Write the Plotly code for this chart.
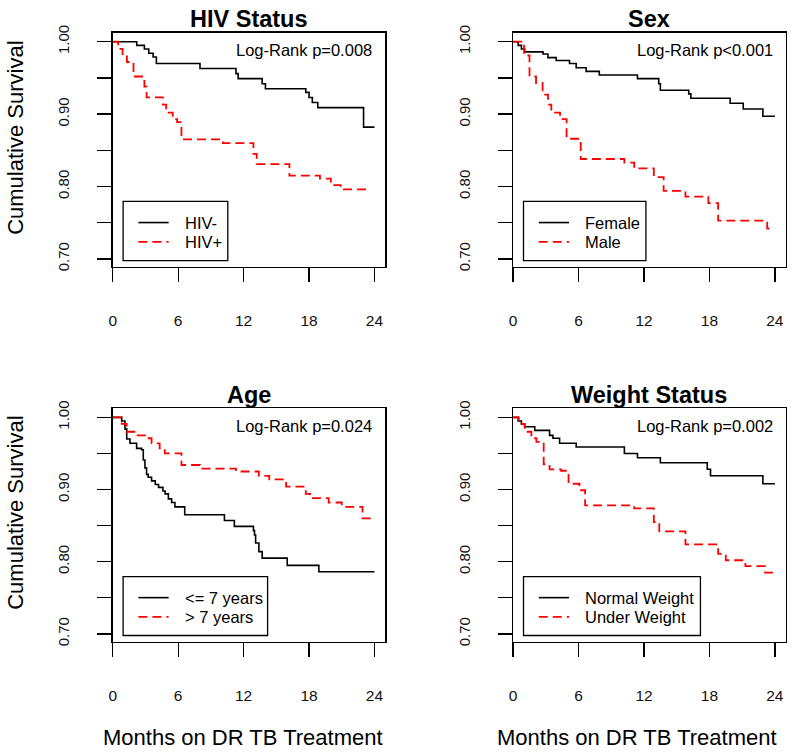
import plotly.graph_objects as go

# ---------------- data ----------------
month_ticks = [0, 6, 12, 18, 24]
surv_ticks = [0.70, 0.75, 0.80, 0.85, 0.90, 0.95, 1.00]
surv_ticktext = ["0.70", "", "0.80", "", "0.90", "", "1.00"]

panel_titles = ["HIV Status", "Sex", "Age", "Weight Status"]
panel_pvalues = ["Log-Rank p=0.008", "Log-Rank p<0.001", "Log-Rank p=0.024", "Log-Rank p=0.002"]
group_labels = [["HIV-", "HIV+"], ["Female", "Male"], ["<= 7 years", "> 7 years"],
                ["Normal Weight", "Under Weight"]]

hiv_neg_t = [0, 2.2, 2.9, 3.3, 3.7, 4.0, 8.0, 11.3, 11.5, 13.7, 14.0, 17.7, 18.0, 18.3, 18.8, 23.0, 24.0]
hiv_neg_s = [1.0, 0.995, 0.990, 0.984, 0.979, 0.970, 0.963, 0.956, 0.949, 0.942, 0.935, 0.930, 0.923,
             0.916, 0.909, 0.882, 0.882]
hiv_pos_t = [0, 0.5, 0.9, 1.3, 1.9, 2.9, 3.1, 4.6, 4.9, 5.5, 5.9, 6.3, 10.1, 12.9, 13.2, 16.2, 19.0,
             20.0, 20.9, 23.5]
hiv_pos_s = [1.0, 0.990, 0.981, 0.972, 0.952, 0.938, 0.923, 0.913, 0.902, 0.893, 0.889, 0.865, 0.860,
             0.845, 0.831, 0.815, 0.811, 0.802, 0.796, 0.796]

female_t = [0, 0.46, 0.76, 1.06, 2.74, 3.19, 3.95, 5.17, 5.78, 6.69, 7.9, 11.4, 13.35, 13.5, 16.1,
            16.3, 19.9, 21.1, 22.9, 24.0]
female_s = [1.0, 0.995, 0.990, 0.986, 0.983, 0.978, 0.974, 0.970, 0.964, 0.959, 0.954, 0.949, 0.942,
            0.933, 0.928, 0.922, 0.915, 0.907, 0.897, 0.897]
male_t = [0, 1.0, 1.5, 2.1, 2.7, 3.2, 3.5, 4.3, 4.9, 6.2, 10.2, 11.1, 12.9, 13.8, 15.8, 17.9, 18.8,
          23.3, 23.9]
male_s = [1.0, 0.981, 0.952, 0.943, 0.927, 0.913, 0.902, 0.893, 0.866, 0.838, 0.833, 0.825, 0.813,
          0.794, 0.786, 0.777, 0.753, 0.742, 0.742]

young_t = [0, 0.82, 1.12, 1.28, 1.58, 2.19, 2.65, 2.8, 2.95, 3.1, 3.25, 3.56, 3.9, 4.2, 4.6, 4.8, 5.1,
           5.4, 5.7, 6.6, 10.24, 11.15, 12.9, 13.0, 13.1, 13.4, 13.7, 16.0, 18.9, 24.0]
young_s = [1.0, 0.995, 0.984, 0.970, 0.964, 0.957, 0.955, 0.941, 0.930, 0.921, 0.917, 0.912, 0.907,
           0.903, 0.898, 0.894, 0.887, 0.882, 0.876, 0.865, 0.857, 0.849, 0.843, 0.837, 0.826, 0.814,
           0.805, 0.795, 0.786, 0.786]
old_t = [0, 0.82, 1.28, 2.19, 2.95, 3.56, 4.3, 4.77, 6.3, 8.0, 11.3, 13.4, 14.35, 15.9, 17.7, 18.1,
         19.8, 21.0, 22.9, 24.0]
old_s = [1.0, 0.991, 0.980, 0.975, 0.971, 0.964, 0.957, 0.950, 0.934, 0.929, 0.925, 0.919, 0.914,
         0.904, 0.894, 0.888, 0.882, 0.876, 0.860, 0.860]

normal_t = [0, 0.46, 0.76, 1.06, 1.98, 3.34, 3.65, 4.26, 5.78, 10.2, 11.4, 13.5, 17.8, 18.1, 22.9, 24.0]
normal_s = [1.0, 0.995, 0.991, 0.987, 0.982, 0.975, 0.971, 0.964, 0.959, 0.950, 0.944, 0.937, 0.928,
            0.919, 0.908, 0.908]
under_t = [0, 0.52, 1.06, 1.67, 2.13, 2.8, 3.34, 4.4, 5.08, 6.08, 6.6, 11.1, 12.9, 13.4, 15.8, 18.8,
           19.5, 21.3, 23.1, 24.0]
under_s = [1.0, 0.991, 0.980, 0.971, 0.966, 0.935, 0.928, 0.926, 0.908, 0.899, 0.878, 0.874, 0.855,
           0.842, 0.824, 0.811, 0.802, 0.794, 0.785, 0.785]

curves = [
    [(hiv_neg_t, hiv_neg_s), (hiv_pos_t, hiv_pos_s)],
    [(female_t, female_s), (male_t, male_s)],
    [(young_t, young_s), (old_t, old_s)],
    [(normal_t, normal_s), (under_t, under_s)],
]

# ---------------- layout geometry (page pixels) ----------------
W, H = 800, 755
FONT = "Liberation Sans, Arial, Helvetica, sans-serif"


def fx(p):
    return p / W


def fy(p):
    return 1 - p / H


dx = [[fx(109.3), fx(383.3)], [fx(511.7), fx(785.7)]]
dy = [[fy(263.3), fy(25)], [fy(644.3), fy(406.7)]]
title_y = [fy(11), fy(393)]
legend_right = [0.422, 0.487, 0.568, 0.687]

fig = go.Figure()
layout = dict(width=W, height=H, margin=dict(l=0, r=0, t=0, b=0),
              paper_bgcolor="white", plot_bgcolor="white", showlegend=False, hovermode=False,
              font=dict(family=FONT, color="black"))
shapes, annotations = [], []

for i in range(4):
    row, col = divmod(i, 2)
    sfx = "" if i == 0 else str(i + 1)
    xa, ya = "x" + sfx, "y" + sfx
    layout["xaxis" + sfx] = dict(
        domain=dx[col], anchor=ya, range=[0, 25], tickvals=month_ticks,
        ticks="outside", ticklen=14, tickwidth=1.3, tickcolor="black",
        showline=True, mirror=True, linecolor="black", linewidth=1.3,
        showgrid=False, zeroline=False, ticklabelstandoff=25,
        tickfont=dict(size=15.5, family=FONT, color="#111"))
    layout["yaxis" + sfx] = dict(
        domain=dy[row], anchor=xa, range=[0.6887, 1.0126], tickvals=surv_ticks,
        ticktext=surv_ticktext, tickangle=-90,
        ticks="outside", ticklen=14, tickwidth=1.3, tickcolor="black",
        showline=True, mirror=True, linecolor="black", linewidth=1.3,
        showgrid=False, zeroline=False, ticklabelstandoff=22,
        tickfont=dict(size=15, family=FONT, color="#111"))

    (t1, s1), (t2, s2) = curves[i]
    fig.add_trace(go.Scatter(x=t1, y=s1, mode="lines", line=dict(color="black", width=1.6, shape="hv"),
                             xaxis=xa, yaxis=ya, name=group_labels[i][0]))
    fig.add_trace(go.Scatter(x=t2, y=s2, mode="lines",
                             line=dict(color="#ff0000", width=1.8, shape="hv", dash="9px,5px"),
                             xaxis=xa, yaxis=ya, name=group_labels[i][1]))

    xd, yd = xa + " domain", ya + " domain"
    annotations.append(dict(text="<b>" + panel_titles[i] + "</b>", xref=xd, yref="paper",
                            x=0.5, y=title_y[row], xanchor="center", yanchor="middle", showarrow=False,
                            font=dict(size=23.5, family=FONT, color="black")))
    annotations.append(dict(text=panel_pvalues[i], xref=xd, yref=yd, x=0.96, y=0.926,
                            xanchor="right", yanchor="middle", showarrow=False,
                            font=dict(size=16.5, family=FONT, color="black")))
    shapes.append(dict(type="rect", xref=xd, yref=yd, x0=0.038, x1=legend_right[i], y0=0.028, y1=0.28,
                       line=dict(color="black", width=1.3), fillcolor="white", layer="above"))
    shapes.append(dict(type="line", xref=xd, yref=yd, x0=0.094, x1=0.205, y0=0.19, y1=0.19,
                       line=dict(color="black", width=1.6)))
    shapes.append(dict(type="line", xref=xd, yref=yd, x0=0.094, x1=0.205, y0=0.108, y1=0.108,
                       line=dict(color="#ff0000", width=1.8, dash="9px,5px")))
    for k, yy in enumerate([0.19, 0.108]):
        annotations.append(dict(text=group_labels[i][k], xref=xd, yref=yd, x=0.258, y=yy,
                                xanchor="left", yanchor="middle", showarrow=False,
                                font=dict(size=16.5, family=FONT, color="black")))

# axis titles
for yc in [fy(132), fy(513)]:
    annotations.append(dict(text="Cumulative Survival", xref="paper", yref="paper", x=fx(12), y=yc,
                            textangle=-90, xanchor="center", yanchor="middle", showarrow=False,
                            font=dict(size=22, family=FONT, color="black")))
for xc in [fx(240), fx(636)]:
    annotations.append(dict(text="Months on DR TB Treatment", xref="paper", yref="paper", x=xc,
                            y=fy(741), xanchor="center", yanchor="middle", showarrow=False,
                            font=dict(size=22, family=FONT, color="black")))

layout["shapes"] = shapes
layout["annotations"] = annotations
fig.update_layout(**layout)
# remove the default 8px page margin so the 800x755 figure fills the window exactly
fig.write_html("out.html", config={"displayModeBar": False, "staticPlot": True},
               post_script="document.body.style.margin='0px';")
